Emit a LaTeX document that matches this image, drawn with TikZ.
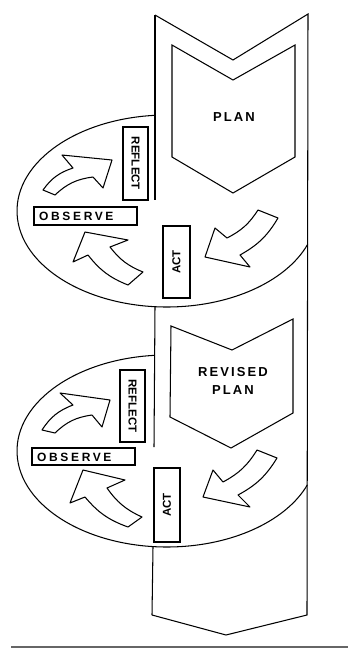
\documentclass[tikz,border=0pt]{standalone}
\usepackage{fontspec}
\setmainfont{Liberation Sans}
\newfontfamily\spacedA{Liberation Sans}[LetterSpace=16]
\newfontfamily\spacedB{Liberation Sans}[LetterSpace=22]
\tikzset{
  outline/.style={draw=black, line width=1.05pt, line join=miter},
  labelbox/.style={outline, fill=white, inner sep=0pt, font=\bfseries\fontsize{11.5}{13}\selectfont},
  blockarrow/.style={outline, fill=white, line join=round},
  bigtext/.style={font=\spacedA\bfseries\fontsize{13}{17.5}\selectfont, align=center, inner sep=0pt},
  obstext/.style={font=\spacedB\bfseries\fontsize{12}{12}\selectfont, inner sep=0pt, anchor=west}
}
\begin{document}
\begin{tikzpicture}[x=1pt, y=-1pt]
\useasboundingbox (0,0) rectangle (348,657);

% ---------- ellipses (cycles) ----------
\draw[outline, shift={(167,211)}] (265.4:150 and 96) arc[start angle=265.4, end angle=20.3, x radius=150, y radius=96];
\draw[outline, shift={(167,451)}] (265.4:150 and 96) arc[start angle=265.4, end angle=20.6, x radius=150, y radius=96];

% ---------- main band ----------
\coordinate (tl) at (155,15);
\coordinate (tn) at (233,60);
\coordinate (tr) at (308,14);
\coordinate (br) at (307,615);
\coordinate (bp) at (226,635);
\coordinate (bl) at (152,615);
\draw[outline] (tl) -- (tn) -- (tr) -- (br) -- (bp) -- (bl);
\draw[outline] (tl) -- (155,200);
\draw[outline] (155,306.7) -- (154,447);
\draw[outline] (153,547) -- (bl);

% ---------- plan chevrons ----------
\draw[outline] (172,45) -- (233,80) -- (295,45) -- (295,157) -- (233,193) -- (172,157) -- cycle;
\node[bigtext] (plan1) at (234,117) {PLAN};
\draw[outline] (171,326) -- (232,350) -- (293,319) -- (293,413) -- (231,448) -- (170,417) -- cycle;
\node[bigtext] (plan2) at (233,381) {REVISED\\PLAN};

% ---------- upper cycle labels ----------
\node[labelbox, rotate=-90, minimum width=73pt, minimum height=25pt] (reflect1) at (135.5,163.5) {REFLECT};
\node[labelbox, minimum width=103pt, minimum height=18pt] (observe1) at (85.5,216) {};
\node[obstext] at (39,216.5) {OBSERVE};
\node[labelbox, rotate=90, minimum width=72pt, minimum height=27pt] (act1) at (176.5,262) {ACT};

% ---------- lower cycle labels ----------
\node[labelbox, rotate=-90, minimum width=72pt, minimum height=25pt] (reflect2) at (132.5,406) {REFLECT};
\node[labelbox, minimum width=103pt, minimum height=17pt] (observe2) at (83.5,456.5) {};
\node[obstext] at (37,457) {OBSERVE};
\node[labelbox, rotate=90, minimum width=74pt, minimum height=26pt] (act2) at (167,505) {ACT};

% ---------- curved block arrows, upper cycle ----------
\draw[blockarrow] (43,190) to[bend left=18] (73,168) -- (62,155) -- (112,160) -- (103,188) -- (93,177) to[bend right=18] (55,195) -- cycle;
\draw[blockarrow] (85,232) -- (128,240) -- (110,247) to[bend right=15] (143,272) -- (128,285) to[bend left=15] (88,255) -- (73,262) -- cycle;
\draw[blockarrow] (205,257) -- (215,228) -- (227,238) to[bend right=15] (258,210) -- (278,218) to[bend left=15] (240,255) -- (250,267) -- cycle;

% ---------- curved block arrows, lower cycle ----------
\draw[blockarrow] (42,430) to[bend left=18] (73,405) -- (60,393) -- (110,400) -- (102,427) -- (92,415) to[bend right=18] (55,433) -- cycle;
\draw[blockarrow] (83,470) -- (125,480) -- (107,488) to[bend right=15] (142,517) -- (128,527) to[bend left=15] (85,497) -- (70,503) -- cycle;
\draw[blockarrow] (203,497) -- (213,470) -- (223,482) to[bend right=15] (257,450) -- (277,458) to[bend left=15] (238,495) -- (250,507) -- cycle;

% ---------- bottom rule ----------
\draw[draw=black!60, line width=1.2pt] (11,647) -- (348,647);
\end{tikzpicture}
\end{document}
